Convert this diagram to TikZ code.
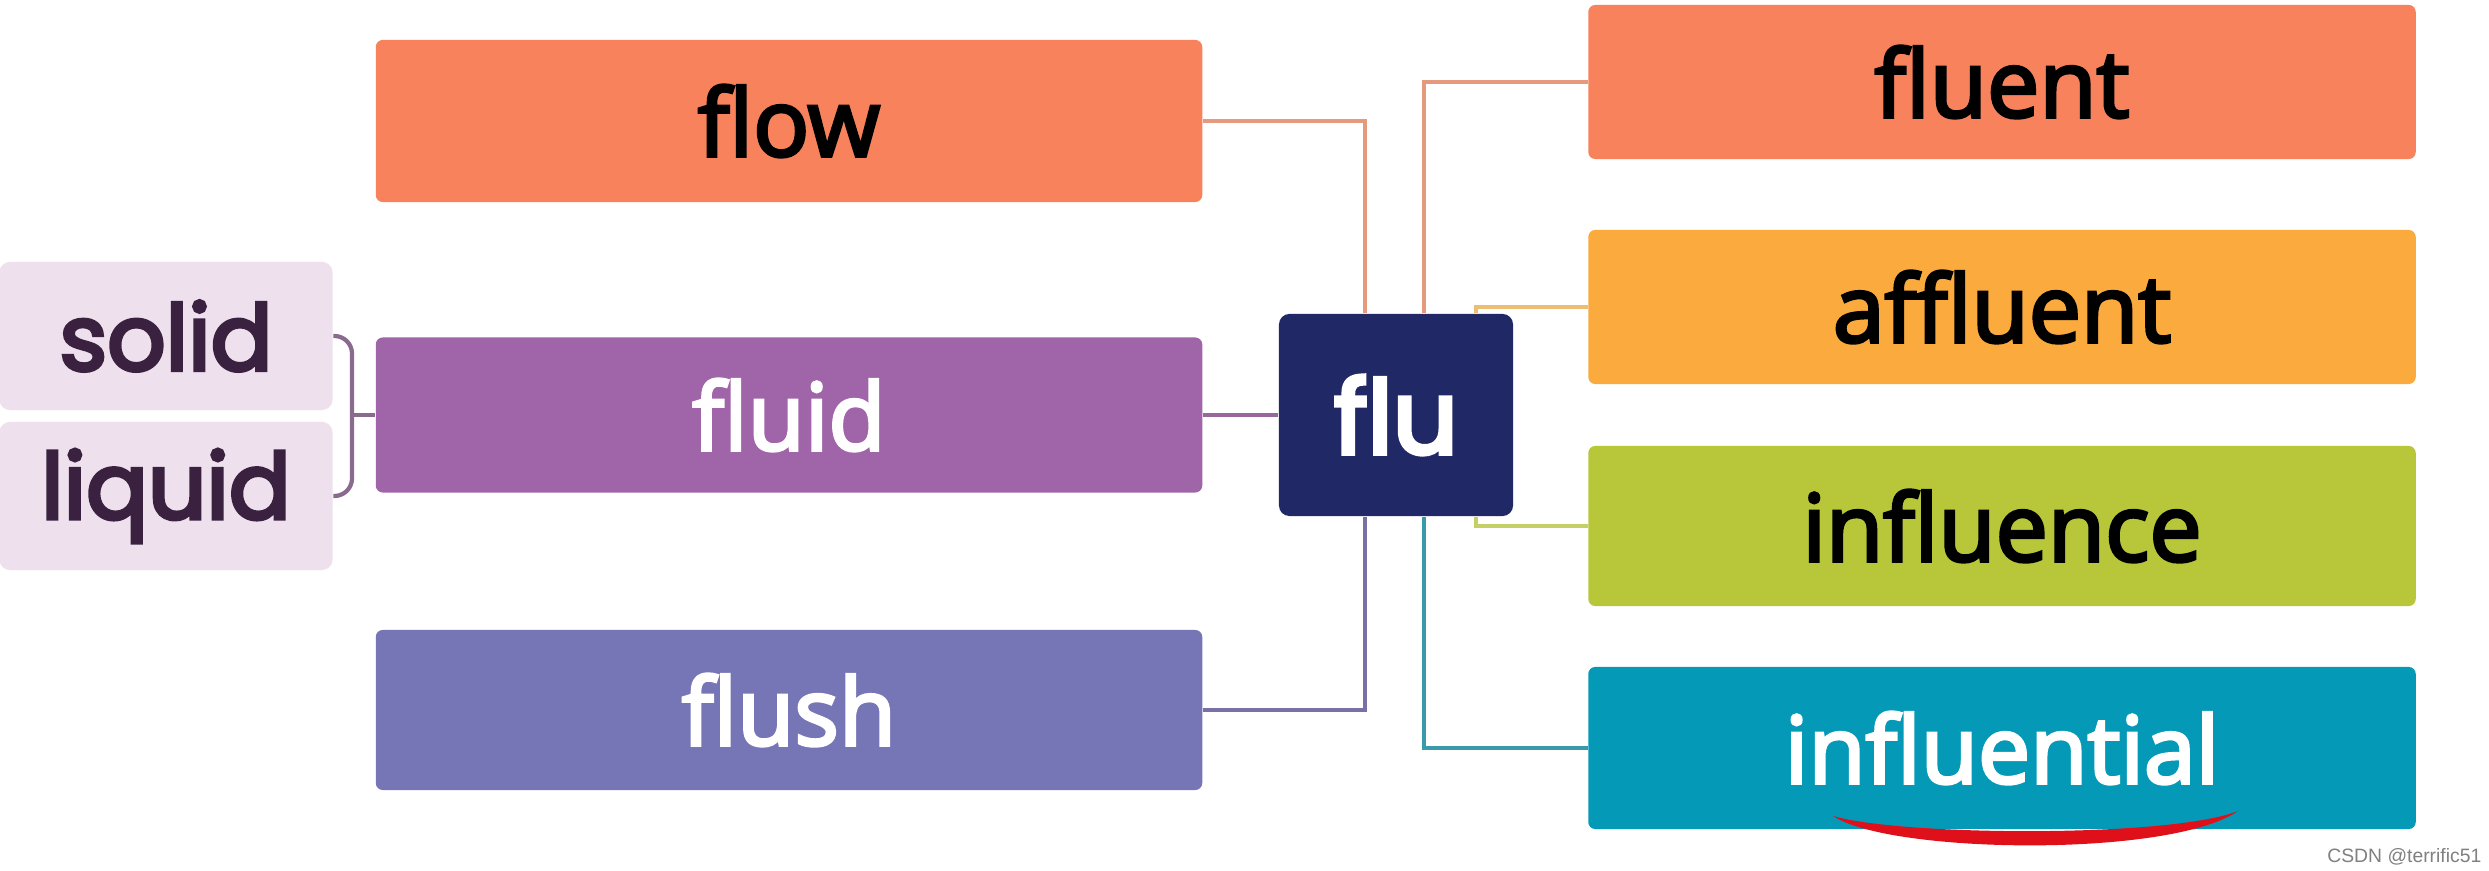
\documentclass[tikz,border=0pt]{standalone}
\usepackage{fontspec}
\setmainfont{Open Sans}
\newfontfamily\osf{Open Sans}[FakeBold=3.4]
\newfontfamily\pop{Poppins}[FakeBold=4]
\newfontfamily\popf{Poppins}[FakeBold=4.5]
\newfontfamily\wm{Liberation Sans}
\definecolor{cFlow}{HTML}{F8825C}
\definecolor{cAff}{HTML}{FBAA3E}
\definecolor{cInf}{HTML}{B8C73A}
\definecolor{cInl}{HTML}{0399B7}
\definecolor{cFluid}{HTML}{A064A8}
\definecolor{cFlush}{HTML}{7676B6}
\definecolor{cFlu}{HTML}{212866}
\definecolor{cSol}{HTML}{EEE1ED}
\definecolor{cSolTxt}{HTML}{3A2140}
\definecolor{lFlow}{HTML}{E59A7E}
\definecolor{lFluid}{HTML}{98689C}
\definecolor{lFlush}{HTML}{7A70A6}
\definecolor{lAff}{HTML}{EDBE72}
\definecolor{lInf}{HTML}{C4CF66}
\definecolor{lInl}{HTML}{3A9AAA}
\definecolor{lBr}{HTML}{8A6A8E}
\definecolor{cRed}{HTML}{E0101A}
\begin{document}
\begin{tikzpicture}[x=0.01cm,y=-0.01cm,
  box/.style={rectangle, rounded corners=2pt, inner sep=0pt,
    font=\osf\fontsize{26.5}{30}\selectfont},
  lbox/.style={box, minimum width=8.26cm},
  rbox/.style={box, minimum width=8.27cm},
  sbox/.style={rectangle, rounded corners=3pt, inner sep=0pt, fill=cSol,
    text=cSolTxt, minimum width=3.33cm, minimum height=1.48cm,
    font=\pop\fontsize{26}{30}\selectfont},
  conn/.style={line width=1.2pt}]
\useasboundingbox (0,0) rectangle (2489,871);
\fill[white] (0,0) rectangle (2489,871);

% left boxes
\node[lbox, fill=cFlow, text=black, minimum height=1.62cm] (flow) at (789,121) {flow};
\node[lbox, fill=cFluid, text=white, minimum height=1.55cm] (fluid) at (789,415) {fluid};
\node[lbox, fill=cFlush, text=white, minimum height=1.60cm] (flush) at (789,710) {flush};

% far-left boxes
\node[sbox] (solid) at (166,336) {solid};
\node[sbox] (liquid) at (166,496) {liquid};

% center
\node[rectangle, rounded corners=3pt, fill=cFlu, text=white, inner sep=0pt,
  minimum width=2.34cm, minimum height=2.02cm,
  font=\popf\fontsize{29}{32}\selectfont] (flu) at (1396,415) {flu};

% right boxes
\node[rbox, fill=cFlow, text=black, minimum height=1.54cm] (fluent) at (2002,82) {fluent};
\node[rbox, fill=cAff, text=black, minimum height=1.54cm] (affluent) at (2002,307) {affluent};
\node[rbox, fill=cInf, text=black, minimum height=1.60cm] (influence) at (2002,526) {influence};
\node[rbox, fill=cInl, text=white, minimum height=1.62cm] (influential) at (2002,748) {influential};

% helper x positions
\coordinate (xL) at (1365,0);
\coordinate (xR) at (1424,0);
\coordinate (xA) at (1476,0);
\coordinate (xB) at (352,0);

% connectors left
\draw[conn, lFlow] (flow.east) -| (xL |- flu.north);
\draw[conn, lFluid] (fluid.east) -- (fluid.east -| flu.west);
\draw[conn, lFlush] (flush.east) -| (xL |- flu.south);

% connectors right
\draw[conn, lFlow] (xR |- flu.north) |- (fluent.west);
\draw[conn, lAff] (xA |- flu.north) |- (affluent.west);
\draw[conn, lInf] (xA |- flu.south) |- (influence.west);
\draw[conn, lInl] (xR |- flu.south) |- (influential.west);

% bracket
\draw[conn, lBr, rounded corners=5pt] (solid.east) -| (xB |- liquid.east) -- (liquid.east);
\draw[conn, lBr] (xB |- fluid.west) -- (fluid.west);

% red underline
\fill[cRed] (1833,816) .. controls (1890,854) and (2170,858) .. (2238,811)
  .. controls (2170,838) and (1900,836) .. cycle;

% watermark
\node[anchor=east, text=gray, inner sep=0pt, font=\wm\fontsize{5.5}{6}\selectfont] (wm) at (2482,857) {CSDN @terrific51};
\end{tikzpicture}
\end{document}
